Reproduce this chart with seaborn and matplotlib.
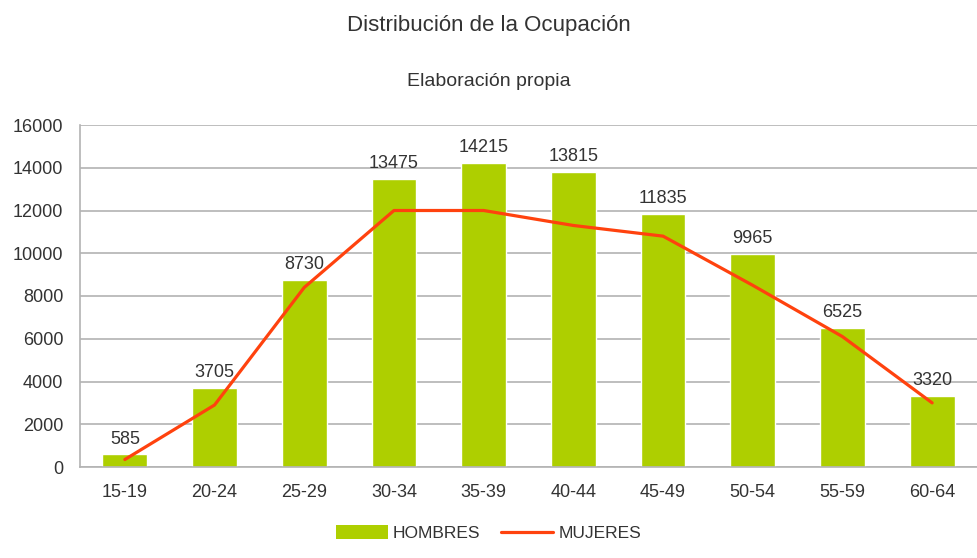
import numpy as np
import matplotlib
matplotlib.use("Agg")
import matplotlib.pyplot as plt
import seaborn as sns
from matplotlib.patches import Patch
from matplotlib.lines import Line2D

# datos
grupos = ["15-19", "20-24", "25-29", "30-34", "35-39", "40-44", "45-49", "50-54", "55-59", "60-64"]
hombres = [585, 3705, 8730, 13475, 14215, 13815, 11835, 9965, 6525, 3320]
mujeres = [350, 2900, 8400, 12000, 12000, 11300, 10800, 8500, 6100, 3000]

verde = "#aecf00"
rojo = "#ff420e"
gris = "#b3b3b3"
texto = "#333333"

sns.set_style("white")
plt.rcParams["font.family"] = ["Liberation Sans", "DejaVu Sans"]

fig = plt.figure(figsize=(9.77, 5.58), dpi=100)
ax = fig.add_axes([80 / 977, 1 - 467 / 558, 897 / 977, (467 - 125) / 558])

sns.barplot(x=grupos, y=hombres, color=verde, width=0.5, saturation=1, ax=ax, zorder=2)
sns.lineplot(x=np.arange(len(grupos)), y=mujeres, color=rojo, linewidth=2.3, ax=ax, zorder=3)

ax.bar_label(ax.containers[0], padding=5, fontsize=13, color=texto)

ax.set_xlim(-0.5, len(grupos) - 0.5)
ax.set_ylim(0, 16000)
ax.set_yticks(range(0, 16001, 2000))
ax.grid(axis="y", color=gris, linewidth=1.2, zorder=0)
ax.set_axisbelow(True)

ax.set_xticks(np.arange(len(grupos)))
ax.set_xticklabels(grupos)
ax.set_xticks(np.arange(len(grupos) + 1) - 0.5, minor=True)
ax.tick_params(axis="x", which="major", length=0, pad=12, labelsize=13, labelcolor=texto)
ax.tick_params(axis="x", which="minor", length=8, width=1.2, color=gris)
ax.tick_params(axis="y", length=8, width=1.2, color=gris, pad=4, labelsize=13, labelcolor=texto)
ax.set_xlabel("")
ax.set_ylabel("")

for side in ["top", "right"]:
    ax.spines[side].set_visible(False)
for side in ["left", "bottom"]:
    ax.spines[side].set_color(gris)
    ax.spines[side].set_linewidth(1.2)

fig.text(0.5, 1 - 26 / 558, "Distribución de la Ocupación", ha="center", va="center", fontsize=16, color=texto)
fig.text(0.5, 1 - 82 / 558, "Elaboración propia", ha="center", va="center", fontsize=14, color=texto)

handles = [Patch(facecolor=verde, edgecolor="none"), Line2D([0], [0], color=rojo, linewidth=2.3)]
fig.legend(handles, ["HOMBRES", "MUJERES"], loc="center", bbox_to_anchor=(0.5, 1 - 533 / 558),
           ncol=2, frameon=False, fontsize=12.5, handlelength=3.0, handleheight=0.9,
           handletextpad=0.3, columnspacing=1.2, labelcolor=texto)

fig.savefig("out.png", dpi=100)
